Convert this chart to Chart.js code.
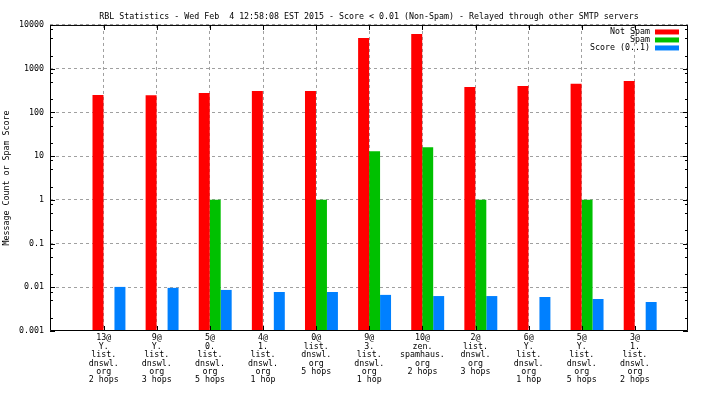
<!DOCTYPE html>
<html>
<head>
<meta charset="utf-8">
<script src="https://cdn.jsdelivr.net/npm/chart.js@4"></script>
<style>
  body { margin: 0; background: #fff; }
  canvas { display: block; }
</style>
</head>
<body>
<canvas id="chart" width="704" height="396"></canvas>
<script>
// categorias (una linea por fila de la etiqueta)
const categories = [
  ['13@', 'Y.', 'list.', 'dnswl.', 'org', '2 hops'],
  ['9@', 'Y.', 'list.', 'dnswl.', 'org', '3 hops'],
  ['5@', '0.', 'list.', 'dnswl.', 'org', '5 hops'],
  ['4@', '1.', 'list.', 'dnswl.', 'org', '1 hop'],
  ['0@', 'list.', 'dnswl.', 'org', '5 hops'],
  ['9@', '3.', 'list.', 'dnswl.', 'org', '1 hop'],
  ['10@', 'zen.', 'spamhaus.', 'org', '2 hops'],
  ['2@', 'list.', 'dnswl.', 'org', '3 hops'],
  ['6@', 'Y.', 'list.', 'dnswl.', 'org', '1 hop'],
  ['5@', 'Y.', 'list.', 'dnswl.', 'org', '5 hops'],
  ['3@', '1.', 'list.', 'dnswl.', 'org', '2 hops']
];

const notSpam = [250, 248, 278, 310, 310, 5050, 6250, 383, 404, 450, 525];
const spam = [null, null, 1, null, 1, 13, 16, 1, null, 1, null];
const score = [0.0102, 0.0097, 0.0087, 0.0078, 0.0078, 0.0067, 0.0063, 0.0063, 0.0060, 0.0054, 0.0046];

const yTicks = [0.001, 0.01, 0.1, 1, 10, 100, 1000, 10000];
const yMinor = [2, 5, 8];

const FONT = { family: '"DejaVu Sans Mono", monospace', size: 8.3, lineHeight: 1.01 };
const GRID = '#a0a0a0';

const toPoints = arr => arr.map((v, i) => ({ x: i, y: v }));

// marco, marcas internas y leyenda al estilo gnuplot
const framePlugin = {
  id: 'frame',
  afterDraw(chart) {
    const { ctx, chartArea: a, scales } = chart;
    ctx.save();
    ctx.strokeStyle = '#000';
    ctx.lineWidth = 1;
    ctx.beginPath();
    ctx.rect(a.left + 0.5, a.top + 0.5, a.right - a.left - 1, a.bottom - a.top - 1);
    ctx.stroke();

    ctx.beginPath();
    yTicks.forEach(t => {
      const y = Math.round(scales.y.getPixelForValue(t)) + 0.5;
      ctx.moveTo(a.left, y); ctx.lineTo(a.left + 5, y);
      ctx.moveTo(a.right, y); ctx.lineTo(a.right - 5, y);
      if (t < 10000) {
        yMinor.forEach(m => {
          const ym = Math.round(scales.y.getPixelForValue(t * m)) + 0.5;
          ctx.moveTo(a.left, ym); ctx.lineTo(a.left + 3, ym);
          ctx.moveTo(a.right, ym); ctx.lineTo(a.right - 3, ym);
        });
      }
    });
    scales.x.ticks.forEach((t, i) => {
      const x = Math.round(scales.x.getPixelForTick(i)) + 0.5;
      ctx.moveTo(x, a.top); ctx.lineTo(x, a.top + 5);
      ctx.moveTo(x, a.bottom); ctx.lineTo(x, a.bottom - 5);
    });
    ctx.stroke();

    // leyenda dentro del area
    ctx.font = FONT.size + 'px ' + FONT.family;
    ctx.textAlign = 'right';
    ctx.textBaseline = 'middle';
    chart.data.datasets.forEach((ds, i) => {
      const y = a.top + 7 + i * 8;
      ctx.fillStyle = '#000';
      ctx.fillText(ds.label, a.right - 38, y);
      ctx.fillStyle = ds.backgroundColor;
      ctx.fillRect(a.right - 33, y - 2.5, 24, 5);
    });
    ctx.restore();
  }
};

new Chart(document.getElementById('chart'), {
  type: 'bar',
  data: {
    datasets: [
      { label: 'Not Spam', data: toPoints(notSpam), backgroundColor: '#ff0000' },
      { label: 'Spam', data: toPoints(spam), backgroundColor: '#00c000' },
      { label: 'Score (0..1)', data: toPoints(score), backgroundColor: '#0080ff' }
    ]
  },
  options: {
    responsive: false,
    animation: false,
    layout: { padding: { left: 0, right: 16, top: 0, bottom: 0 } },
    datasets: {
      bar: { categoryPercentage: 0.62, barPercentage: 1, borderWidth: 0 }
    },
    plugins: {
      legend: { display: false },
      tooltip: { enabled: false },
      title: {
        display: true,
        fullSize: false,
        text: 'RBL Statistics - Wed Feb  4 12:58:08 EST 2015 - Score < 0.01 (Non-Spam) - Relayed through other SMTP servers',
        color: '#000',
        font: { family: FONT.family, size: FONT.size, weight: 'normal', lineHeight: 1.2 },
        padding: { top: 12, bottom: 3 }
      }
    },
    scales: {
      x: {
        type: 'linear',
        min: -1.11,
        max: 10.9,
        bounds: 'data',
        offset: false,
        afterBuildTicks: s => { s.ticks = categories.map((c, i) => ({ value: i - 0.1 })); },
        afterFit: s => { s.height = 65; },
        ticks: {
          autoSkip: false,
          maxRotation: 0,
          padding: 3,
          color: '#000',
          font: FONT,
          callback: (v, i) => categories[i]
        },
        grid: { color: GRID, drawTicks: false, offset: false },
        border: { display: false, dash: [3, 3] }
      },
      y: {
        type: 'logarithmic',
        min: 0.001,
        max: 10000,
        afterBuildTicks: s => { s.ticks = yTicks.map(v => ({ value: v })); },
        afterFit: s => { s.width = 50; },
        ticks: {
          padding: 6,
          color: '#000',
          font: FONT,
          callback: v => String(v)
        },
        grid: { color: GRID, drawTicks: false },
        border: { display: false, dash: [3, 3] },
        title: {
          display: true,
          text: 'Message Count or Spam Score',
          color: '#000',
          font: { family: FONT.family, size: FONT.size, lineHeight: 1.2 },
          padding: { top: 2, bottom: 0 }
        }
      }
    }
  },
  plugins: [framePlugin]
});
</script>
</body>
</html>
